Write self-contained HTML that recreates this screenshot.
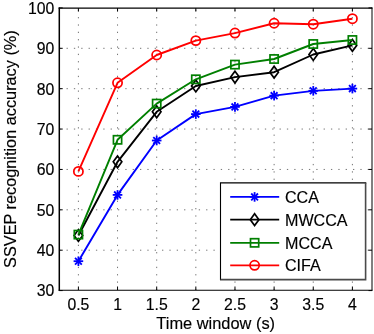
<!DOCTYPE html><html><head><meta charset="utf-8"><style>html,body{margin:0;padding:0;background:#fff}body{width:374px;height:334px;overflow:hidden;position:relative}</style></head><body><svg width="374" height="334" viewBox="0 0 374 334" style="position:absolute;left:0;top:0;will-change:transform;font-family:'Liberation Sans',sans-serif;font-size:16.3px;stroke-width:0.15px">
<rect x="0" y="0" width="374" height="334" fill="#fff"/>
<g stroke="#000" stroke-width="1" stroke-dasharray="1.3 6.045" stroke-opacity="0.55" fill="none"><line x1="78.40" y1="290.1" x2="78.40" y2="8.1"/><line x1="117.54" y1="290.1" x2="117.54" y2="8.1"/><line x1="156.69" y1="290.1" x2="156.69" y2="8.1"/><line x1="195.83" y1="290.1" x2="195.83" y2="8.1"/><line x1="234.97" y1="290.1" x2="234.97" y2="8.1"/><line x1="274.11" y1="290.1" x2="274.11" y2="8.1"/><line x1="313.26" y1="290.1" x2="313.26" y2="8.1"/><line x1="352.40" y1="290.1" x2="352.40" y2="8.1"/><line x1="59.2" y1="250.20" x2="372.0" y2="250.20"/><line x1="59.2" y1="209.82" x2="372.0" y2="209.82"/><line x1="59.2" y1="169.44" x2="372.0" y2="169.44"/><line x1="59.2" y1="129.06" x2="372.0" y2="129.06"/><line x1="59.2" y1="88.68" x2="372.0" y2="88.68"/><line x1="59.2" y1="48.30" x2="372.0" y2="48.30"/></g>
<polyline points="78.40,261.20 117.54,194.90 156.69,140.50 195.83,114.10 234.97,106.90 274.11,95.65 313.26,90.84 352.40,88.60" fill="none" stroke="#0000ff" stroke-width="1.9" stroke-linejoin="round"/>
<g stroke="#0000ff" stroke-width="1.8"><line x1="73.60" y1="261.20" x2="83.20" y2="261.20"/><line x1="75.01" y1="257.81" x2="81.80" y2="264.59"/><line x1="78.40" y1="256.40" x2="78.40" y2="266.00"/><line x1="81.80" y1="257.81" x2="75.01" y2="264.59"/></g>
<g stroke="#0000ff" stroke-width="1.8"><line x1="112.74" y1="194.90" x2="122.34" y2="194.90"/><line x1="114.15" y1="191.51" x2="120.94" y2="198.29"/><line x1="117.54" y1="190.10" x2="117.54" y2="199.70"/><line x1="120.94" y1="191.51" x2="114.15" y2="198.29"/></g>
<g stroke="#0000ff" stroke-width="1.8"><line x1="151.89" y1="140.50" x2="161.49" y2="140.50"/><line x1="153.29" y1="137.11" x2="160.08" y2="143.89"/><line x1="156.69" y1="135.70" x2="156.69" y2="145.30"/><line x1="160.08" y1="137.11" x2="153.29" y2="143.89"/></g>
<g stroke="#0000ff" stroke-width="1.8"><line x1="191.03" y1="114.10" x2="200.63" y2="114.10"/><line x1="192.43" y1="110.71" x2="199.22" y2="117.49"/><line x1="195.83" y1="109.30" x2="195.83" y2="118.90"/><line x1="199.22" y1="110.71" x2="192.43" y2="117.49"/></g>
<g stroke="#0000ff" stroke-width="1.8"><line x1="230.17" y1="106.90" x2="239.77" y2="106.90"/><line x1="231.58" y1="103.51" x2="238.37" y2="110.29"/><line x1="234.97" y1="102.10" x2="234.97" y2="111.70"/><line x1="238.37" y1="103.51" x2="231.58" y2="110.29"/></g>
<g stroke="#0000ff" stroke-width="1.8"><line x1="269.31" y1="95.65" x2="278.91" y2="95.65"/><line x1="270.72" y1="92.26" x2="277.51" y2="99.04"/><line x1="274.11" y1="90.85" x2="274.11" y2="100.45"/><line x1="277.51" y1="92.26" x2="270.72" y2="99.04"/></g>
<g stroke="#0000ff" stroke-width="1.8"><line x1="308.46" y1="90.84" x2="318.06" y2="90.84"/><line x1="309.86" y1="87.45" x2="316.65" y2="94.23"/><line x1="313.26" y1="86.04" x2="313.26" y2="95.64"/><line x1="316.65" y1="87.45" x2="309.86" y2="94.23"/></g>
<g stroke="#0000ff" stroke-width="1.8"><line x1="347.60" y1="88.60" x2="357.20" y2="88.60"/><line x1="349.00" y1="85.21" x2="355.79" y2="91.99"/><line x1="352.40" y1="83.80" x2="352.40" y2="93.40"/><line x1="355.79" y1="85.21" x2="349.00" y2="91.99"/></g>
<polyline points="78.40,235.50 117.54,161.80 156.69,111.80 195.83,86.00 234.97,77.10 274.11,72.20 313.26,54.50 352.40,45.40" fill="none" stroke="#000000" stroke-width="1.9" stroke-linejoin="round"/>
<path d="M78.40 229.60L82.70 235.50L78.40 241.40L74.10 235.50Z" fill="none" stroke="#000000" stroke-width="1.7"/>
<path d="M117.54 155.90L121.84 161.80L117.54 167.70L113.24 161.80Z" fill="none" stroke="#000000" stroke-width="1.7"/>
<path d="M156.69 105.90L160.99 111.80L156.69 117.70L152.39 111.80Z" fill="none" stroke="#000000" stroke-width="1.7"/>
<path d="M195.83 80.10L200.13 86.00L195.83 91.90L191.53 86.00Z" fill="none" stroke="#000000" stroke-width="1.7"/>
<path d="M234.97 71.20L239.27 77.10L234.97 83.00L230.67 77.10Z" fill="none" stroke="#000000" stroke-width="1.7"/>
<path d="M274.11 66.30L278.41 72.20L274.11 78.10L269.81 72.20Z" fill="none" stroke="#000000" stroke-width="1.7"/>
<path d="M313.26 48.60L317.56 54.50L313.26 60.40L308.96 54.50Z" fill="none" stroke="#000000" stroke-width="1.7"/>
<path d="M352.40 39.50L356.70 45.40L352.40 51.30L348.10 45.40Z" fill="none" stroke="#000000" stroke-width="1.7"/>
<polyline points="78.40,234.60 117.54,139.80 156.69,103.60 195.83,79.30 234.97,64.60 274.11,59.00 313.26,44.00 352.40,40.00" fill="none" stroke="#007f00" stroke-width="1.9" stroke-linejoin="round"/>
<rect x="74.30" y="230.50" width="8.2" height="8.2" fill="none" stroke="#007f00" stroke-width="1.7"/>
<rect x="113.44" y="135.70" width="8.2" height="8.2" fill="none" stroke="#007f00" stroke-width="1.7"/>
<rect x="152.59" y="99.50" width="8.2" height="8.2" fill="none" stroke="#007f00" stroke-width="1.7"/>
<rect x="191.73" y="75.20" width="8.2" height="8.2" fill="none" stroke="#007f00" stroke-width="1.7"/>
<rect x="230.87" y="60.50" width="8.2" height="8.2" fill="none" stroke="#007f00" stroke-width="1.7"/>
<rect x="270.01" y="54.90" width="8.2" height="8.2" fill="none" stroke="#007f00" stroke-width="1.7"/>
<rect x="309.16" y="39.90" width="8.2" height="8.2" fill="none" stroke="#007f00" stroke-width="1.7"/>
<rect x="348.30" y="35.90" width="8.2" height="8.2" fill="none" stroke="#007f00" stroke-width="1.7"/>
<polyline points="78.40,171.40 117.54,82.80 156.69,55.00 195.83,40.60 234.97,33.10 274.11,23.25 313.26,24.20 352.40,18.70" fill="none" stroke="#ff0000" stroke-width="1.9" stroke-linejoin="round"/>
<circle cx="78.40" cy="171.40" r="4.6" fill="none" stroke="#ff0000" stroke-width="1.75"/>
<circle cx="117.54" cy="82.80" r="4.6" fill="none" stroke="#ff0000" stroke-width="1.75"/>
<circle cx="156.69" cy="55.00" r="4.6" fill="none" stroke="#ff0000" stroke-width="1.75"/>
<circle cx="195.83" cy="40.60" r="4.6" fill="none" stroke="#ff0000" stroke-width="1.75"/>
<circle cx="234.97" cy="33.10" r="4.6" fill="none" stroke="#ff0000" stroke-width="1.75"/>
<circle cx="274.11" cy="23.25" r="4.6" fill="none" stroke="#ff0000" stroke-width="1.75"/>
<circle cx="313.26" cy="24.20" r="4.6" fill="none" stroke="#ff0000" stroke-width="1.75"/>
<circle cx="352.40" cy="18.70" r="4.6" fill="none" stroke="#ff0000" stroke-width="1.75"/>
<line x1="59.3" y1="7.5" x2="59.3" y2="290.65" stroke="#000" stroke-width="1.5"/>
<line x1="58.6" y1="8.05" x2="372.5" y2="8.05" stroke="#000" stroke-width="1.2"/>
<line x1="372.0" y1="7.5" x2="372.0" y2="290.65" stroke="#000" stroke-width="1.0"/>
<line x1="58.6" y1="290.2" x2="372.5" y2="290.2" stroke="#000" stroke-width="1.1"/>
<g stroke="#000" stroke-width="1"><line x1="78.40" y1="290.0" x2="78.40" y2="286.5"/><line x1="78.40" y1="8.1" x2="78.40" y2="11.6"/><line x1="117.54" y1="290.0" x2="117.54" y2="286.5"/><line x1="117.54" y1="8.1" x2="117.54" y2="11.6"/><line x1="156.69" y1="290.0" x2="156.69" y2="286.5"/><line x1="156.69" y1="8.1" x2="156.69" y2="11.6"/><line x1="195.83" y1="290.0" x2="195.83" y2="286.5"/><line x1="195.83" y1="8.1" x2="195.83" y2="11.6"/><line x1="234.97" y1="290.0" x2="234.97" y2="286.5"/><line x1="234.97" y1="8.1" x2="234.97" y2="11.6"/><line x1="274.11" y1="290.0" x2="274.11" y2="286.5"/><line x1="274.11" y1="8.1" x2="274.11" y2="11.6"/><line x1="313.26" y1="290.0" x2="313.26" y2="286.5"/><line x1="313.26" y1="8.1" x2="313.26" y2="11.6"/><line x1="352.40" y1="290.0" x2="352.40" y2="286.5"/><line x1="352.40" y1="8.1" x2="352.40" y2="11.6"/><line x1="59.2" y1="290.58" x2="62.7" y2="290.58"/><line x1="372.0" y1="290.58" x2="368.5" y2="290.58"/><line x1="59.2" y1="250.20" x2="62.7" y2="250.20"/><line x1="372.0" y1="250.20" x2="368.5" y2="250.20"/><line x1="59.2" y1="209.82" x2="62.7" y2="209.82"/><line x1="372.0" y1="209.82" x2="368.5" y2="209.82"/><line x1="59.2" y1="169.44" x2="62.7" y2="169.44"/><line x1="372.0" y1="169.44" x2="368.5" y2="169.44"/><line x1="59.2" y1="129.06" x2="62.7" y2="129.06"/><line x1="372.0" y1="129.06" x2="368.5" y2="129.06"/><line x1="59.2" y1="88.68" x2="62.7" y2="88.68"/><line x1="372.0" y1="88.68" x2="368.5" y2="88.68"/><line x1="59.2" y1="48.30" x2="62.7" y2="48.30"/><line x1="372.0" y1="48.30" x2="368.5" y2="48.30"/><line x1="59.2" y1="7.92" x2="62.7" y2="7.92"/><line x1="372.0" y1="7.92" x2="368.5" y2="7.92"/></g>
<text x="78.40" y="309.8" text-anchor="middle" font-size="15.8" stroke="#000">0.5</text>
<text x="117.54" y="309.8" text-anchor="middle" font-size="15.8" stroke="#000">1</text>
<text x="156.69" y="309.8" text-anchor="middle" font-size="15.8" stroke="#000">1.5</text>
<text x="195.83" y="309.8" text-anchor="middle" font-size="15.8" stroke="#000">2</text>
<text x="234.97" y="309.8" text-anchor="middle" font-size="15.8" stroke="#000">2.5</text>
<text x="274.11" y="309.8" text-anchor="middle" font-size="15.8" stroke="#000">3</text>
<text x="313.26" y="309.8" text-anchor="middle" font-size="15.8" stroke="#000">3.5</text>
<text x="352.40" y="309.8" text-anchor="middle" font-size="15.8" stroke="#000">4</text>
<text x="54.4" y="296.48" text-anchor="end" font-size="15.8" stroke="#000">30</text>
<text x="54.4" y="256.10" text-anchor="end" font-size="15.8" stroke="#000">40</text>
<text x="54.4" y="215.72" text-anchor="end" font-size="15.8" stroke="#000">50</text>
<text x="54.4" y="175.34" text-anchor="end" font-size="15.8" stroke="#000">60</text>
<text x="54.4" y="134.96" text-anchor="end" font-size="15.8" stroke="#000">70</text>
<text x="54.4" y="94.58" text-anchor="end" font-size="15.8" stroke="#000">80</text>
<text x="54.4" y="54.20" text-anchor="end" font-size="15.8" stroke="#000">90</text>
<text x="54.4" y="13.82" text-anchor="end" font-size="15.8" stroke="#000">100</text>
<text x="215.7" y="329.2" text-anchor="middle" stroke="#000" font-size="16.4">Time window (s)</text>
<text transform="translate(16.0,149.1) rotate(-90)" text-anchor="middle" stroke="#000">SSVEP recognition accuracy (%)</text>
<rect x="220.5" y="182.9" width="145.10000000000002" height="96.70000000000002" fill="#fff" stroke="none"/>
<path d="M220.5 280.3L220.5 182.9L366.3 182.9" fill="none" stroke="#000" stroke-width="1.1"/>
<path d="M220.5 279.6L365.6 279.6L365.6 182.9" fill="none" stroke="#4a4a4a" stroke-width="1.6"/>
<line x1="230.2" y1="196.9" x2="279.2" y2="196.9" stroke="#0000ff" stroke-width="1.7"/>
<g stroke="#0000ff" stroke-width="1.8"><line x1="249.80" y1="196.90" x2="259.40" y2="196.90"/><line x1="251.21" y1="193.51" x2="257.99" y2="200.29"/><line x1="254.60" y1="192.10" x2="254.60" y2="201.70"/><line x1="257.99" y1="193.51" x2="251.21" y2="200.29"/></g>
<text x="285" y="202.70000000000002" font-size="16.1" stroke="#000">CCA</text>
<line x1="230.2" y1="219.7" x2="279.2" y2="219.7" stroke="#000000" stroke-width="1.7"/>
<path d="M254.60 213.80L258.90 219.70L254.60 225.60L250.30 219.70Z" fill="none" stroke="#000000" stroke-width="1.7"/>
<text x="285" y="225.5" font-size="16.1" stroke="#000">MWCCA</text>
<line x1="230.2" y1="242.8" x2="279.2" y2="242.8" stroke="#007f00" stroke-width="1.7"/>
<rect x="250.50" y="238.70" width="8.2" height="8.2" fill="none" stroke="#007f00" stroke-width="1.7"/>
<text x="285" y="248.60000000000002" font-size="16.1" stroke="#000">MCCA</text>
<line x1="230.2" y1="265.3" x2="279.2" y2="265.3" stroke="#ff0000" stroke-width="1.7"/>
<circle cx="254.60" cy="265.30" r="4.6" fill="none" stroke="#ff0000" stroke-width="1.75"/>
<text x="285" y="271.1" font-size="16.1" stroke="#000">CIFA</text>
</svg></body></html>
